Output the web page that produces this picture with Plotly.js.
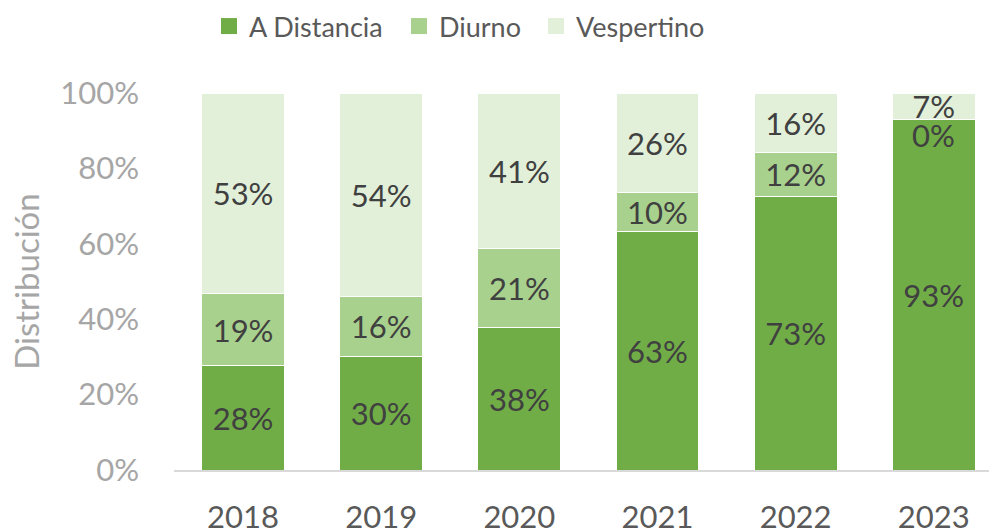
<!DOCTYPE html>
<html>
<head>
<meta charset="utf-8">
<script src="https://cdn.plot.ly/plotly-3.0.1.min.js"></script>
<style>html,body{margin:0;padding:0;background:#fff;}#chart{width:989px;height:530px;}</style>
</head>
<body>
<div id="chart"></div>
<script>
const years = ['2018', '2019', '2020', '2021', '2022', '2023'];
const seriesNames = ['A Distancia', 'Diurno', 'Vespertino'];
const aDistancia = [27.6, 30.2, 37.8, 63.2, 72.6, 93.0];
const diurno = [19.2, 15.8, 20.9, 10.4, 11.7, 0.0];
const vespertino = [53.2, 54.0, 41.3, 26.4, 15.7, 7.0];
const colors = ['#70ad47', '#a9d18e', '#e2f0d9'];
const yTicks = [0, 20, 40, 60, 80, 100];

const FONT = 'Lato, "Open Sans", sans-serif';
const FS = 31;
const series = [aDistancia, diurno, vespertino];
const legendIds = ['legend', 'legend2', 'legend3'];
const legendX = [209, 399, 536];

const traces = [];
const annotations = [];
const cum = years.map(() => 0);
series.forEach((vals, si) => {
  traces.push({
    type: 'bar',
    name: seriesNames[si],
    x: years,
    y: vals,
    width: 0.6,
    marker: {color: colors[si], line: {color: '#ffffff', width: 1}},
    text: vals.map(v => v === 0 ? '' : Math.round(v) + '%'),
    textposition: 'inside',
    insidetextanchor: 'middle',
    textangle: 0,
    textfont: {family: FONT, size: FS, color: '#404040'},
    hoverinfo: 'skip',
    showlegend: false
  });
  vals.forEach((v, i) => {
    cum[i] += v;
    if (v === 0) {
      annotations.push({
        x: i, y: cum[i], xref: 'x', yref: 'y',
        text: Math.round(v) + '%', showarrow: false, yshift: -16,
        font: {family: FONT, size: FS, color: '#404040'}
      });
    }
  });
  traces.push({
    type: 'scatter', mode: 'markers', name: seriesNames[si],
    x: [null], y: [null],
    marker: {symbol: 'square', size: 16, color: colors[si]},
    showlegend: true, hoverinfo: 'skip',
    legend: legendIds[si]
  });
});

const layout = {
  width: 989, height: 530,
  margin: {l: 174, r: 0, t: 93, b: 60},
  paper_bgcolor: '#ffffff', plot_bgcolor: '#ffffff',
  barmode: 'stack',
  font: {family: FONT, size: FS, color: '#595959'},
  uniformtext: {mode: 'show', minsize: FS},
  showlegend: true,
  xaxis: {
    type: 'category',
    range: [-0.5, 5.4],
    showgrid: false, zeroline: false,
    showline: true, linecolor: '#d9d9d9', linewidth: 1.5,
    ticks: '', ticklabelstandoff: 19,
    tickfont: {family: FONT, size: FS, color: '#595959'},
    fixedrange: true
  },
  yaxis: {
    range: [0, 100],
    tickvals: yTicks,
    ticktext: yTicks.map(t => t + '%'),
    showgrid: false, zeroline: false, showline: false,
    ticks: '', ticklabelstandoff: 34,
    tickfont: {family: FONT, size: FS, color: '#a6a6a6'},
    title: {text: 'Distribución', font: {family: FONT, size: 33, color: '#a6a6a6'}, standoff: 10},
    fixedrange: true
  },
  annotations: annotations
};
legendIds.forEach((id, si) => {
  layout[id] = {
    orientation: 'h',
    x: legendX[si] / 989, xanchor: 'left', xref: 'container',
    y: 0.95, yanchor: 'middle', yref: 'container',
    font: {family: FONT, size: 27, color: '#595959'},
    bgcolor: 'rgba(0,0,0,0)',
    itemclick: false, itemdoubleclick: false
  };
});

Plotly.newPlot('chart', traces, layout, {displayModeBar: false, staticPlot: true});
</script>
</body>
</html>
